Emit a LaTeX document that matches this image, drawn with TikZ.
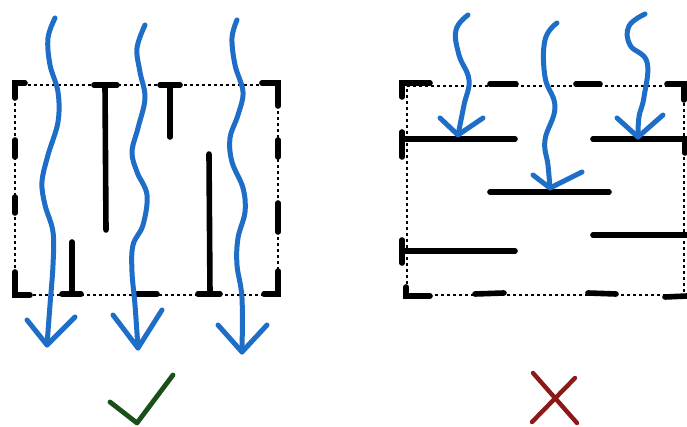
\documentclass[tikz,border=0pt]{standalone}
\begin{document}
\begin{tikzpicture}[x=0.5pt,y=-0.5pt,
  wave/.style={color={rgb,255:red,30;green,110;blue,200}, line width=2.5pt, line cap=round, line join=round},
  wall/.style={draw=black, line width=2.8pt, line cap=round},
  border/.style={draw=black, line width=1.4pt, dash pattern=on 1.3pt off 1.7pt},
  tip/.style={wave}]
\useasboundingbox[fill=white] (0,0) rectangle (687,427);

% ---------- left box ----------
\draw[border] (15,85) rectangle (278,295);
% corners and dashes
\draw[wall] (25,83) -- (15,83) -- (15,98);
\draw[wall] (15,140) -- (15,157);
\draw[wall] (15,197) -- (15,213);
\draw[wall] (15,272) -- (15,295) -- (30,295);
\draw[wall] (137,294) -- (157,294);
\draw[wall] (262,83) -- (278,83) -- (278,106);
\draw[wall] (278,140) -- (278,157);
\draw[wall] (278,203) -- (278,232);
\draw[wall] (278,271) -- (278,294) -- (264,294);
% T walls
\draw[wall] (94,85) -- (117,85);
\draw[wall] (105,85) -- (106,230);
\draw[wall] (160,85) -- (180,85);
\draw[wall] (170,85) -- (170,137);
\draw[wall] (209,154) -- (210,294);
\draw[wall] (198,294) -- (220,294);
\draw[wall] (72,242) -- (72,294);
\draw[wall] (62,294) -- (81,294);

% left arrows
\draw[wave] plot[smooth,tension=0.6] coordinates {(55,18) (48,38) (50,65) (58,92) (58,122) (48,155) (42,182) (45,205) (53,232) (53,265) (50,305) (47,345)};
\draw[wave] (27,320) -- (47,345) -- (75,317);
\draw[wave] plot[smooth,tension=0.6] coordinates {(145,25) (137,48) (140,72) (145,98) (138,128) (132,152) (137,172) (147,195) (143,225) (133,245) (132,272) (135,305) (138,348)};
\draw[wave] (113,315) -- (138,348) -- (162,310);
\draw[wave] plot[smooth,tension=0.6] coordinates {(237,20) (232,38) (235,65) (243,92) (238,115) (230,138) (232,162) (243,188) (245,212) (238,238) (237,265) (242,298) (242,352)};
\draw[wave] (218,325) -- (242,352) -- (267,325);

% ---------- right box ----------
\draw[border] (407,86) -- (684,86) -- (684,295) -- (407,295) -- cycle;
\draw[wall] (430,83) -- (402,83) -- (402,97);
\draw[wall] (490,84) -- (516,84);
\draw[wall] (576,84) -- (600,84);
\draw[wall] (667,84) -- (684,84) -- (684,100);
\draw[wall] (402,132) -- (402,157);
\draw[wall] (402,139) -- (515,139);
\draw[wall] (593,139) -- (687,139);
\draw[wall] (685,139) -- (685,153);
\draw[wall] (490,192) -- (609,192);
\draw[wall] (593,235) -- (687,235);
\draw[wall] (402,240) -- (402,263);
\draw[wall] (402,251) -- (515,251);
\draw[wall] (406,287) -- (406,296) -- (430,296);
\draw[wall] (475,294) -- (504,293);
\draw[wall] (588,293) -- (616,294);
\draw[wall] (665,297) -- (687,296);

% right arrows
\draw[wave] plot[smooth,tension=0.7] coordinates {(468,15) (456,30) (459,55) (469,80) (464,105) (458,135)};
\draw[wave] (440,118) -- (458,135) -- (483,118);
\draw[wave] plot[smooth,tension=0.7] coordinates {(557,23) (545,40) (545,77) (555,107) (545,140) (548,165) (550,188)};
\draw[wave] (533,175) -- (550,188) -- (582,172);
\draw[wave] plot[smooth,tension=0.7] coordinates {(645,14) (629,26) (630,45) (647,62) (644,97) (639,117) (638,137)};
\draw[wave] (617,118) -- (638,137) -- (663,115);

% check and cross
\draw[line width=2.4pt, color={rgb,255:red,24;green,80;blue,24}, line cap=round, line join=round] (110,402) -- (137,423) -- (173,375);
\draw[line width=2.2pt, color={rgb,255:red,140;green,24;blue,24}, line cap=round] (533,373) -- (577,423);
\draw[line width=2.2pt, color={rgb,255:red,140;green,24;blue,24}, line cap=round] (575,378) -- (532,422);
\end{tikzpicture}
\end{document}
